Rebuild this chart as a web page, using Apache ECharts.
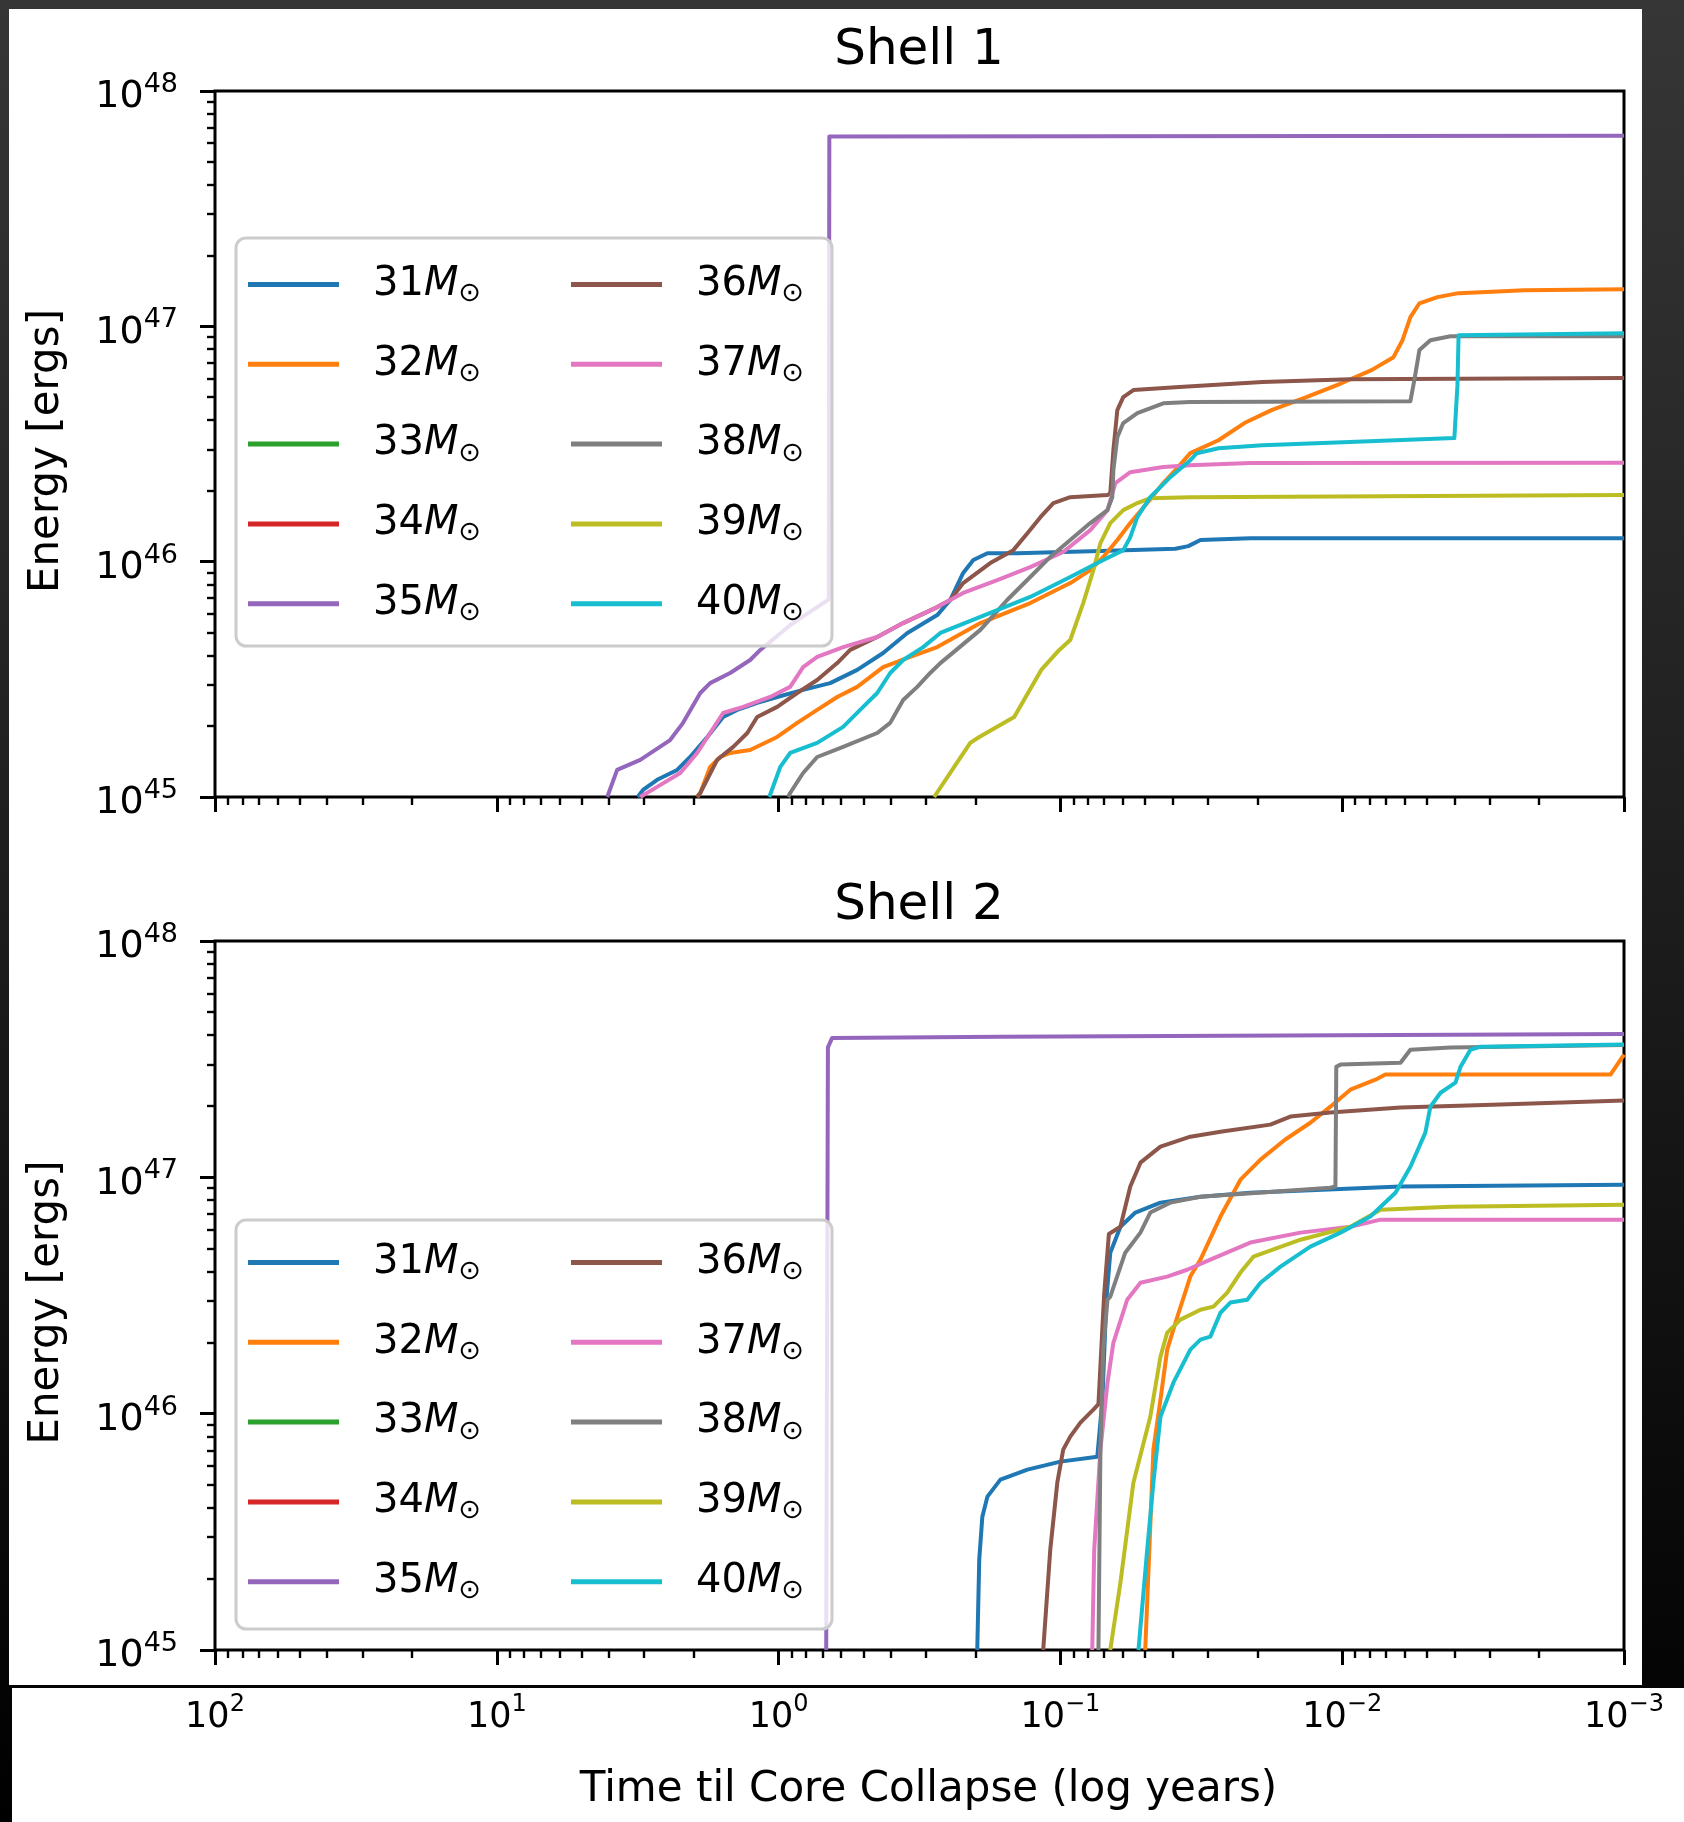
<!DOCTYPE html>
<html>
<head>
<meta charset="utf-8">
<title>Shell energies vs time to core collapse</title>
<script src="https://cdn.jsdelivr.net/npm/echarts@6/dist/echarts.min.js"></script>
<style>
  html, body { margin: 0; padding: 0; }
  body {
    width: 1684px; height: 1822px; position: relative; overflow: hidden;
    background: linear-gradient(to bottom, #363636 0%, #1a1a1a 55%, #000 100%);
  }
  #panelTop { position: absolute; left: 9px; top: 9px; width: 1633px; height: 1676px; background: #fff; }
  #panelBottom { position: absolute; left: 12px; top: 1688px; width: 1672px; height: 134px; background: #fff; }
  #chart { position: absolute; left: 0; top: 0; width: 1684px; height: 1822px; }
</style>
</head>
<body>
<div id="panelTop"></div>
<div id="panelBottom"></div>
<div id="chart"></div>
<script>
// Progenitor masses (solar masses) and their line colours
const masses = [31, 32, 33, 34, 35, 36, 37, 38, 39, 40];
const colors = ['#1f77b4', '#ff7f0e', '#2ca02c', '#d62728', '#9467bd',
                '#8c564b', '#e377c2', '#7f7f7f', '#bcbd22', '#17becf'];

// Decade exponents used for the major tick labels
const xTickExps = [2, 1, 0, -1, -2, -3];   // log10(years)
const yTickExps = [45, 46, 47, 48];        // log10(ergs)
const minorFactors = [2, 3, 4, 5, 6, 7, 8, 9];

// Each point: [log10(time to core collapse / yr), log10(energy / erg)]
// ---- Shell 1 ----
const s1m31 = [[0.50,45.0],[0.481,45.030],[0.431,45.073],[0.360,45.115],[0.314,45.170],[0.253,45.255],[0.197,45.340],[0.147,45.370],[0.076,45.400],[0.005,45.425],[-0.087,45.455],[-0.183,45.484],[-0.279,45.540],[-0.371,45.612],[-0.457,45.697],[-0.563,45.773],[-0.609,45.837],[-0.655,45.952],[-0.691,46.007],[-0.741,46.036],[-0.847,46.036],[-1.142,46.045],[-1.408,46.055],[-1.454,46.066],[-1.497,46.092],[-1.674,46.100],[-3.0,46.100]];
const s1m32 = [[0.289,45.0],[0.278,45.017],[0.243,45.128],[0.207,45.170],[0.172,45.187],[0.101,45.200],[0.005,45.255],[-0.066,45.315],[-0.137,45.370],[-0.208,45.425],[-0.279,45.468],[-0.371,45.552],[-0.467,45.595],[-0.563,45.637],[-0.716,45.739],[-0.893,45.824],[-1.035,45.909],[-1.106,45.964],[-1.152,46.020],[-1.202,46.092],[-1.248,46.164],[-1.308,46.249],[-1.365,46.334],[-1.408,46.389],[-1.461,46.461],[-1.561,46.516],[-1.653,46.589],[-1.749,46.644],[-1.873,46.699],[-1.997,46.758],[-2.104,46.814],[-2.182,46.869],[-2.214,46.941],[-2.242,47.039],[-2.274,47.098],[-2.338,47.124],[-2.413,47.141],[-2.647,47.153],[-3.0,47.158]];
const s1m33 = [];
const s1m34 = [];
const s1m35 = [[0.608,45.0],[0.573,45.115],[0.491,45.158],[0.385,45.242],[0.339,45.315],[0.278,45.442],[0.243,45.484],[0.172,45.527],[0.101,45.582],[0.065,45.625],[-0.041,45.73],[-0.178,45.84],[-0.180,47.807],[-3.0,47.81]];
const s1m36 = [[0.289,45.0],[0.278,45.017],[0.218,45.158],[0.161,45.213],[0.111,45.272],[0.076,45.340],[0.005,45.383],[-0.066,45.442],[-0.137,45.497],[-0.208,45.569],[-0.254,45.625],[-0.350,45.680],[-0.442,45.739],[-0.563,45.807],[-0.609,45.837],[-0.655,45.909],[-0.751,45.994],[-0.833,46.049],[-0.883,46.121],[-0.929,46.189],[-0.975,46.249],[-1.035,46.274],[-1.167,46.283],[-1.177,46.290],[-1.188,46.474],[-1.202,46.644],[-1.223,46.699],[-1.259,46.729],[-1.408,46.741],[-1.717,46.763],[-2.026,46.775],[-3.0,46.780]];
const s1m37 = [[0.491,45.0],[0.431,45.043],[0.349,45.102],[0.289,45.187],[0.243,45.272],[0.197,45.357],[0.126,45.383],[0.030,45.425],[-0.041,45.468],[-0.087,45.552],[-0.137,45.595],[-0.229,45.637],[-0.350,45.680],[-0.442,45.739],[-0.563,45.807],[-0.655,45.867],[-0.776,45.922],[-0.893,45.977],[-1.010,46.041],[-1.106,46.134],[-1.167,46.219],[-1.195,46.334],[-1.248,46.380],[-1.365,46.402],[-1.461,46.410],[-1.674,46.419],[-3.0,46.42]];
const s1m38 = [[-0.034,45.0],[-0.041,45.017],[-0.087,45.102],[-0.137,45.170],[-0.229,45.213],[-0.350,45.272],[-0.396,45.315],[-0.442,45.412],[-0.492,45.468],[-0.538,45.527],[-0.574,45.569],[-0.716,45.710],[-0.811,45.837],[-0.893,45.935],[-0.964,46.020],[-1.035,46.092],[-1.106,46.164],[-1.167,46.219],[-1.184,46.274],[-1.188,46.389],[-1.202,46.529],[-1.223,46.589],[-1.273,46.631],[-1.365,46.673],[-1.461,46.678],[-2.242,46.682],[-2.256,46.771],[-2.274,46.899],[-2.313,46.941],[-2.384,46.958],[-3.0,46.958]];
const s1m39 = [[-0.552,45.0],[-0.616,45.115],[-0.680,45.230],[-0.712,45.255],[-0.836,45.340],[-0.932,45.540],[-0.996,45.625],[-1.035,45.667],[-1.081,45.824],[-1.117,45.964],[-1.142,46.079],[-1.177,46.164],[-1.223,46.219],[-1.273,46.249],[-1.319,46.270],[-1.461,46.274],[-3.0,46.283]];
const s1m40 = [[0.033,45.0],[-0.006,45.128],[-0.041,45.187],[-0.137,45.230],[-0.229,45.298],[-0.300,45.383],[-0.350,45.442],[-0.396,45.527],[-0.442,45.582],[-0.513,45.637],[-0.574,45.697],[-0.716,45.765],[-0.893,45.850],[-1.035,45.935],[-1.131,45.994],[-1.223,46.049],[-1.248,46.104],[-1.273,46.189],[-1.319,46.274],[-1.390,46.359],[-1.461,46.431],[-1.484,46.461],[-1.561,46.482],[-1.717,46.495],[-2.026,46.508],[-2.398,46.525],[-2.409,46.75],[-2.413,46.962],[-3.0,46.971]];

// ---- Shell 2 ----
const s2m31 = [[-0.705,45.0],[-0.712,45.382],[-0.723,45.564],[-0.741,45.649],[-0.787,45.721],[-0.883,45.763],[-1.000,45.797],[-1.131,45.818],[-1.149,46.059],[-1.163,46.482],[-1.177,46.681],[-1.213,46.791],[-1.266,46.851],[-1.355,46.893],[-1.497,46.918],[-1.674,46.935],[-2.207,46.961],[-3.0,46.969]];
const s2m32 = [[-1.301,45.0],[-1.330,45.848],[-1.355,46.059],[-1.379,46.271],[-1.415,46.410],[-1.461,46.580],[-1.497,46.652],[-1.568,46.834],[-1.639,46.990],[-1.710,47.075],[-1.798,47.160],[-1.887,47.231],[-1.958,47.299],[-2.029,47.371],[-2.118,47.413],[-2.153,47.435],[-2.952,47.435],[-3.0,47.519]];
const s2m33 = [];
const s2m34 = [];
const s2m35 = [[-0.169,45.0],[-0.175,47.55],[-0.190,47.59],[-0.787,47.595],[-3.0,47.607]];
const s2m36 = [[-0.939,45.0],[-0.964,45.424],[-0.989,45.708],[-1.010,45.848],[-1.035,45.903],[-1.071,45.962],[-1.117,46.017],[-1.135,46.04],[-1.155,46.50],[-1.172,46.76],[-1.213,46.791],[-1.248,46.961],[-1.284,47.062],[-1.355,47.130],[-1.461,47.172],[-1.568,47.193],[-1.745,47.223],[-1.816,47.257],[-1.958,47.274],[-2.207,47.295],[-2.562,47.308],[-3.0,47.325]];
const s2m37 = [[-1.113,45.0],[-1.120,45.424],[-1.142,45.848],[-1.167,46.131],[-1.188,46.300],[-1.237,46.482],[-1.284,46.554],[-1.379,46.580],[-1.450,46.609],[-1.532,46.652],[-1.674,46.724],[-1.852,46.766],[-2.029,46.791],[-2.136,46.821],[-3.0,46.821]];
const s2m38 = [[-1.135,45.0],[-1.142,45.848],[-1.152,46.271],[-1.167,46.482],[-1.177,46.495],[-1.230,46.681],[-1.284,46.766],[-1.319,46.851],[-1.390,46.893],[-1.497,46.918],[-1.958,46.956],[-1.976,46.961],[-1.979,47.468],[-1.994,47.477],[-2.207,47.485],[-2.242,47.540],[-2.384,47.549],[-3.0,47.56]];
const s2m39 = [[-1.177,45.0],[-1.213,45.285],[-1.259,45.708],[-1.319,45.987],[-1.355,46.241],[-1.379,46.343],[-1.426,46.398],[-1.497,46.440],[-1.543,46.453],[-1.592,46.512],[-1.639,46.597],[-1.685,46.664],[-1.852,46.736],[-2.029,46.791],[-2.136,46.863],[-2.384,46.876],[-3.0,46.884]];
const s2m40 = [[-1.277,45.0],[-1.308,45.424],[-1.330,45.708],[-1.355,45.987],[-1.401,46.131],[-1.461,46.271],[-1.497,46.313],[-1.532,46.326],[-1.568,46.427],[-1.603,46.470],[-1.663,46.482],[-1.710,46.554],[-1.781,46.622],[-1.887,46.707],[-1.994,46.766],[-2.100,46.834],[-2.189,46.935],[-2.242,47.045],[-2.295,47.189],[-2.313,47.299],[-2.349,47.358],[-2.402,47.401],[-2.420,47.468],[-2.455,47.540],[-2.491,47.553],[-3.0,47.562]];

const shell1Lines = [s1m31, s1m32, s1m33, s1m34, s1m35, s1m36, s1m37, s1m38, s1m39, s1m40];
const shell2Lines = [s2m31, s2m32, s2m33, s2m34, s2m35, s2m36, s2m37, s2m38, s2m39, s2m40];

const FONT = 'DejaVu Sans';
const seriesNames = masses.map(m => m + 'M\u2299');

// minor tick positions inside each decade (log space)
function minorTicks(fromExp, toExp) {
  const out = [];
  for (let e = fromExp; e < toExp; e++) {
    minorFactors.forEach(k => out.push(e + Math.log10(k)));
  }
  return out;
}
const xMinor = minorTicks(xTickExps[xTickExps.length - 1], xTickExps[0]);
const yMinor = minorTicks(yTickExps[0], yTickExps[yTickExps.length - 1]);

function expText(v) {
  const n = Math.round(v);
  return n < 0 ? '\u2212' + (-n) : String(n);
}
const powLabel = v => '{b|10}{s|' + expText(v) + '}';
const xPowRich = {
  b: { fontFamily: FONT, fontSize: 35, lineHeight: 49, color: '#000' },
  s: { fontFamily: FONT, fontSize: 24, lineHeight: 24, color: '#000', verticalAlign: 'top' }
};
const yPowRich = {
  b: { fontFamily: FONT, fontSize: 38, lineHeight: 52, color: '#000' },
  s: { fontFamily: FONT, fontSize: 27, lineHeight: 27, color: '#000', verticalAlign: 'top' }
};

const grids = [
  { left: 215, top: 91, width: 1409, height: 706 },
  { left: 215, top: 941, width: 1409, height: 709 }
].map(g => Object.assign(g, {
  show: true, borderColor: '#000', borderWidth: 3, backgroundColor: 'transparent',
  containLabel: false, outerBoundsMode: 'none'
}));

const hiddenLine = { show: false, onZero: false };

function xAxesFor(gridIndex, withLabels) {
  const major = {
    type: 'value', gridIndex, position: 'bottom', inverse: true,
    min: xTickExps[xTickExps.length - 1], max: xTickExps[0], interval: 1,
    axisLine: hiddenLine, splitLine: { show: false },
    axisTick: { show: true, length: 15, lineStyle: { color: '#000', width: 3 } },
    axisLabel: {
      show: withLabels, margin: 43, showMinLabel: true, showMaxLabel: true,
      formatter: powLabel, rich: xPowRich
    }
  };
  if (withLabels) {
    Object.assign(major, {
      name: 'Time til Core Collapse (log years)', nameLocation: 'middle', nameGap: 119,
      nameTextStyle: { fontFamily: FONT, fontSize: 42, color: '#000', padding: [0, 0, 0, 18] }
    });
  }
  const minor = {
    type: 'value', gridIndex, position: 'bottom', inverse: true,
    min: xTickExps[xTickExps.length - 1], max: xTickExps[0],
    axisLine: hiddenLine, splitLine: { show: false }, axisLabel: { show: false },
    axisTick: { show: true, length: 8, customValues: xMinor, lineStyle: { color: '#000', width: 2.4 } }
  };
  return [major, minor];
}

function yAxesFor(gridIndex) {
  const major = {
    type: 'value', gridIndex, position: 'left',
    min: yTickExps[0], max: yTickExps[yTickExps.length - 1], interval: 1,
    axisLine: hiddenLine, splitLine: { show: false },
    axisTick: { show: true, length: 15, lineStyle: { color: '#000', width: 3 } },
    axisLabel: {
      margin: 37, padding: [13, 0, 0, 0], showMinLabel: true, showMaxLabel: true,
      formatter: powLabel, rich: yPowRich
    },
    name: 'Energy [ergs]', nameLocation: 'middle', nameGap: 147, nameRotate: 90,
    nameTextStyle: { fontFamily: FONT, fontSize: 42, color: '#000', padding: [0, 14, 0, 0] }
  };
  const minor = {
    type: 'value', gridIndex, position: 'left',
    min: yTickExps[0], max: yTickExps[yTickExps.length - 1],
    axisLine: hiddenLine, splitLine: { show: false }, axisLabel: { show: false },
    axisTick: { show: true, length: 8, customValues: yMinor, lineStyle: { color: '#000', width: 2.4 } }
  };
  return [major, minor];
}

function linesFor(list, axisIndex) {
  return list.map((pts, i) => ({
    type: 'line', name: seriesNames[i], xAxisIndex: axisIndex, yAxisIndex: axisIndex,
    data: pts, symbol: 'none', showSymbol: false, silent: true, animation: false,
    color: colors[i], itemStyle: { color: colors[i] },
    lineStyle: { color: colors[i], width: 4, join: 'round', cap: 'butt' },
    emphasis: { disabled: true }, z: 2
  }));
}

const legendRich = {
  n: { fontFamily: FONT, fontSize: 40, lineHeight: 46, color: '#000', padding: [0, 0, 0, 29] },
  m: { fontFamily: FONT, fontSize: 40, lineHeight: 46, color: '#000', fontStyle: 'italic' },
  s: { fontFamily: FONT, fontSize: 27, lineHeight: 27, color: '#000', verticalAlign: 'bottom' }
};
function legendColumn(names, left, top) {
  return {
    orient: 'vertical', left, top, padding: 0, itemGap: 36.8,
    itemWidth: 91, itemHeight: 5, icon: 'rect', selectedMode: false,
    itemStyle: { borderWidth: 0 }, data: names, z: 5,
    formatter: name => '{n|' + name.slice(0, 2) + '}{m|M}{s|\u2299}',
    textStyle: { rich: legendRich, color: '#000' }
  };
}
const firstCol = seriesNames.slice(0, 5);
const secondCol = seriesNames.slice(5);

const legendFrame = (y, h) => ({
  type: 'rect', silent: true, z: 3,
  shape: { x: 236, y: y, width: 596, height: h, r: 10 },
  style: { fill: 'rgba(255,255,255,0.8)', stroke: '#cccccc', lineWidth: 3 }
});
const panelTitle = (text, y) => ({
  type: 'text', x: 919, y: y, z: 5, silent: true,
  style: {
    text: text, fill: '#000', font: '50px "DejaVu Sans"',
    textAlign: 'center', textVerticalAlign: 'middle', align: 'center', verticalAlign: 'middle'
  }
});

const chart = echarts.init(document.getElementById('chart'), null, { renderer: 'canvas' });
chart.setOption({
  backgroundColor: 'transparent',
  animation: false,
  textStyle: { fontFamily: FONT },
  grid: grids,
  xAxis: [...xAxesFor(0, false), ...xAxesFor(1, true)],
  yAxis: [...yAxesFor(0), ...yAxesFor(1)],
  legend: [
    legendColumn(firstCol, 248, 264.5),
    legendColumn(secondCol, 571, 264.5),
    legendColumn(firstCol, 248, 1242.5),
    legendColumn(secondCol, 571, 1242.5)
  ],
  graphic: [
    legendFrame(238, 408),
    legendFrame(1220, 409),
    panelTitle('Shell 1', 51),
    panelTitle('Shell 2', 906)
  ],
  series: [...linesFor(shell1Lines, 0), ...linesFor(shell2Lines, 2)]
});
</script>
</body>
</html>
